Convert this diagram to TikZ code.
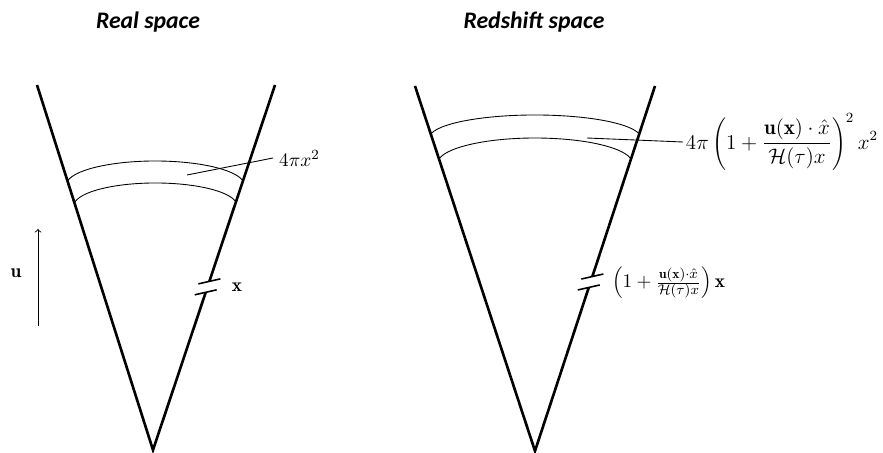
\documentclass[tikz,border=0pt]{standalone}
\usepackage{fontspec}
\newfontfamily\titlefont{Carlito}
\usetikzlibrary{calc}

\begin{document}
\begin{tikzpicture}[x=0.02cm,y=0.02cm,
  cone/.style={line width=1.5pt},
  band/.style={line width=0.5pt},
  leader/.style={line width=0.5pt},
  cut/.style={line width=0.9pt},
  title/.style={font=\titlefont\fontsize{13.5}{16}\selectfont\bfseries\itshape},
  lab/.style={font=\fontsize{11}{13}\selectfont},
  biglab/.style={font=\fontsize{12}{14}\selectfont, inner sep=1.5pt}]

\useasboundingbox (0,0) rectangle (883,453);

% Titoli
\node[title] (tReal) at (148,431) {Real space};
\node[title] (tRed) at (534,431) {Redshift space};

% Cono reale
\coordinate (Lapex) at (153,3);
\coordinate (Lltop) at (37,368);
\coordinate (Lrtop) at (275,368);
\coordinate (LcutA) at ($(Lapex)!0.462!(Lrtop)$);
\coordinate (LcutB) at ($(Lapex)!0.432!(Lrtop)$);
\draw[cone] (Lltop) -- (Lapex) -- (LcutB);
\draw[cone] (LcutA) -- (Lrtop);
\draw[cut] ([shift={(-11,-2.5)}]LcutA) -- ([shift={(11,2.5)}]LcutA);
\draw[cut] ([shift={(-11,-2.5)}]LcutB) -- ([shift={(11,2.5)}]LcutB);

% Guscio sferico (reale)
\draw[band] (67.5,272) arc[start angle=170,end angle=10,x radius=89.1,y radius=24.2];
\draw[band] (75,251) arc[start angle=170,end angle=10,x radius=81.7,y radius=23];

% Etichette (reale)
\node[lab, anchor=west] (lArea) at (273,295) {$4\pi x^2$};
\draw[leader] (187,278) -- (lArea.west);
\node[lab] (lPos) at (237,166) {$\mathbf{x}$};

% Velocita'
\coordinate (uBot) at (38,127);
\coordinate (uTop) at (38,224);
\draw[->, line width=0.5pt] (uBot) -- (uTop);
\node[lab] (lVel) at (16,180) {$\mathbf{u}$};

% Cono redshift
\coordinate (Rapex) at (535,2);
\coordinate (Rltop) at (415,367);
\coordinate (Rrtop) at (655,367);
\coordinate (RcutA) at ($(Rapex)!0.478!(Rrtop)$);
\coordinate (RcutB) at ($(Rapex)!0.448!(Rrtop)$);
\draw[cone] (Rltop) -- (Rapex) -- (RcutB);
\draw[cone] (RcutA) -- (Rrtop);
\draw[cut] ([shift={(-11,-2.5)}]RcutA) -- ([shift={(11,2.5)}]RcutA);
\draw[cut] ([shift={(-11,-2.5)}]RcutB) -- ([shift={(11,2.5)}]RcutB);

% Guscio sferico (redshift)
\draw[band] (430.8,319) arc[start angle=170,end angle=10,x radius=105.8,y radius=23];
\draw[band] (439,294) arc[start angle=170,end angle=10,x radius=97.5,y radius=25.4];

% Etichette (redshift)
\node[biglab, anchor=west] (rArea) at (683,311)
  {$\displaystyle 4\pi\left(1+\frac{\mathbf{u}(\mathbf{x})\cdot\hat{x}}{\mathcal{H}(\tau)x}\right)^{2}x^2$};
\draw[leader] (587,315) -- (rArea.west);
\node[lab, anchor=west] (rPos) at (606,170)
  {$\left(1+\frac{\mathbf{u}(\mathbf{x})\cdot\hat{x}}{\mathcal{H}(\tau)x}\right)\mathbf{x}$};

\end{tikzpicture}
\end{document}
